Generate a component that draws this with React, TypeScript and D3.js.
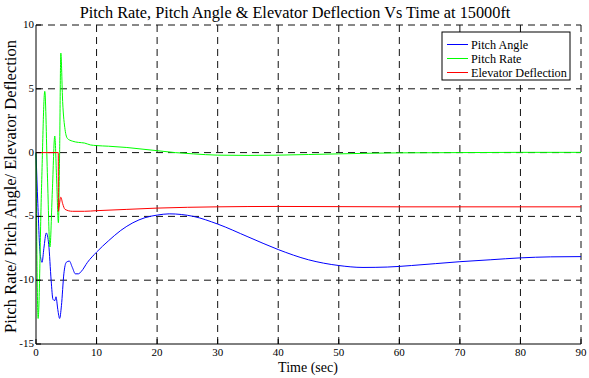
import React from "react";
import * as d3 from "d3";

const xTicks = [0, 10, 20, 30, 40, 50, 60, 70, 80, 90];
const yTicks = [-15, -10, -5, 0, 5, 10];

const pitchAngleT = [0, 0.3, 0.7, 1.0, 1.3, 1.7, 2.1, 2.5, 2.8, 3.1, 3.3, 3.6, 3.9, 4.2, 4.6, 5.0, 5.5, 6.0, 6.5, 7.0, 7.5, 8.5, 10, 12, 14, 16, 18, 20, 22, 24, 26, 30, 35, 40, 45, 50, 54, 58, 62, 66, 70, 75, 80, 85, 90];
const pitchAngleV = [0, -4, -8, -8.6, -7.5, -6.3, -7.2, -10, -11.5, -11.6, -11.3, -12.3, -13.0, -12, -9.5, -8.6, -8.5, -9.0, -9.5, -9.5, -9.3, -8.6, -7.8, -6.9, -6.1, -5.5, -5.1, -4.9, -4.8, -4.85, -5.0, -5.6, -6.6, -7.6, -8.4, -8.85, -9.0, -8.97, -8.85, -8.7, -8.55, -8.4, -8.25, -8.17, -8.15];

const pitchRateT = [0, 0.35, 0.9, 1.45, 1.9, 2.3, 2.7, 3.1, 3.4, 3.7, 3.9, 4.1, 4.4, 4.8, 5.2, 6, 7, 8, 9, 10, 12, 15, 18, 20, 23, 26, 30, 35, 40, 45, 50, 55, 60, 70, 80, 90];
const pitchRateV = [0, -13, -3, 4.8, -2, -7.4, -3, 1.3, -2, -5.5, 0, 7.8, 4, 1.8, 1.1, 0.9, 0.8, 0.75, 0.6, 0.55, 0.5, 0.4, 0.25, 0.15, 0.0, -0.1, -0.2, -0.22, -0.2, -0.15, -0.1, -0.05, -0.02, 0, 0.02, 0.02];

const elevatorT = [0, 3.68, 3.7, 3.8, 4.1, 4.4, 4.8, 6, 8, 10, 15, 20, 30, 40, 60, 90];
const elevatorV = [0, 0, -4.6, -4.3, -3.5, -4.0, -4.45, -4.6, -4.6, -4.55, -4.45, -4.35, -4.25, -4.22, -4.25, -4.25];

const seriesNames = ["Pitch Angle", "Pitch Rate", "Elevator Deflection"];
const seriesColors = ["#0000ff", "#00ff00", "#ff0000"];

export default function App() {
  const W = 589, H = 378;
  const left = 36, right = 581, top = 25, bottom = 344;
  const x = d3.scaleLinear().domain([0, 90]).range([left, right]);
  const y = d3.scaleLinear().domain([-15, 10]).range([bottom, top]);
  const line = d3
    .line<[number, number]>()
    .x((d) => x(d[0]))
    .y((d) => y(d[1]))
    .curve(d3.curveMonotoneX);
  const series = [
    pitchAngleT.map((t, i) => [t, pitchAngleV[i]] as [number, number]),
    pitchRateT.map((t, i) => [t, pitchRateV[i]] as [number, number]),
    elevatorT.map((t, i) => [t, elevatorV[i]] as [number, number]),
  ];
  const font = "'Liberation Serif', 'Times New Roman', serif";
  const dash = "7,5";
  return (
    <svg width={W} height={H} style={{ position: "absolute", left: 0, top: 0, background: "#fff" }} fontFamily={font}>
      <rect x={0} y={0} width={W} height={H} fill="#fff" />
      {xTicks.map((t) =>
        t === 0 ? null : (
          <line key={"gx" + t} x1={x(t)} x2={x(t)} y1={top} y2={bottom} stroke="#111" strokeWidth={1} strokeDasharray={dash} />
        )
      )}
      {yTicks.map((t) =>
        t === -15 ? null : (
          <line key={"gy" + t} x1={left} x2={right} y1={y(t)} y2={y(t)} stroke="#111" strokeWidth={1} strokeDasharray={dash} />
        )
      )}
      {series.map((s, i) => (
        <path key={i} d={line(s) || ""} fill="none" stroke={seriesColors[i]} strokeWidth={1} />
      ))}
      <line x1={left} x2={left} y1={top} y2={bottom} stroke="#000" strokeWidth={1} />
      <line x1={left} x2={right} y1={bottom} y2={bottom} stroke="#000" strokeWidth={1} />
      {xTicks.map((t) => (
        <g key={"xt" + t}>
          <line x1={x(t)} x2={x(t)} y1={bottom} y2={bottom - 5} stroke="#000" />
          <text x={x(t)} y={bottom + 12} fontSize={11} textAnchor="middle">{t}</text>
        </g>
      ))}
      {yTicks.map((t) => (
        <g key={"yt" + t}>
          <line x1={left} x2={left + 5} y1={y(t)} y2={y(t)} stroke="#000" />
          <text x={left - 2} y={y(t) + 3} fontSize={11} textAnchor="end">{t}</text>
        </g>
      ))}
      <text x={295} y={18} fontSize={16.3} textAnchor="middle">Pitch Rate, Pitch Angle &amp; Elevator Deflection Vs Time at 15000ft</text>
      <text x={308} y={372} fontSize={14} textAnchor="middle">Time (sec)</text>
      <text transform={`translate(15.5,${(top + bottom) / 2 + 2}) rotate(-90)`} fontSize={16.5} textAnchor="middle">Pitch Rate/ Pitch Angle/ Elevator Deflection</text>
      <rect x={442} y={32} width={128} height={48} fill="#fff" stroke="#000" strokeWidth={1} />
      {seriesNames.map((n, i) => (
        <g key={"lg" + i}>
          <line x1={447} x2={468} y1={44.5 + i * 14} y2={44.5 + i * 14} stroke={seriesColors[i]} strokeWidth={1} />
          <text x={471} y={48.5 + i * 14} fontSize={12.2}>{n}</text>
        </g>
      ))}
    </svg>
  );
}
